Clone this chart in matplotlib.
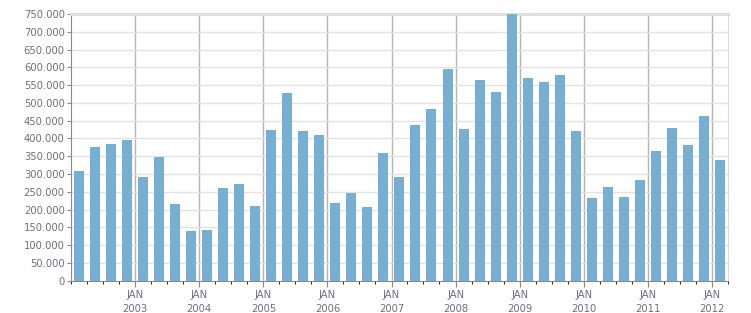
import matplotlib
matplotlib.use("Agg")
import matplotlib.pyplot as plt
import matplotlib.dates as mdates
from matplotlib.ticker import FuncFormatter, MultipleLocator
import pandas as pd
from datetime import datetime

# ---------------------------------------------------------------------------
# Data: one bar per quarter, 2002 Q1 .. 2012 Q1
# ---------------------------------------------------------------------------
FIRST_QUARTER = "2002Q1"
LAST_QUARTER = "2012Q1"
VALUES = [
    308000, 377000, 385000, 396000,   # 2002
    292000, 349000, 216000, 141000,   # 2003
    142000, 262000, 273000, 210000,   # 2004
    424000, 528000, 421000, 410000,   # 2005
    218000, 247000, 207000, 359000,   # 2006
    292000, 438000, 483000, 595000,   # 2007
    426000, 565000, 531000, 752000,   # 2008
    570000, 559000, 578000, 421000,   # 2009
    233000, 263000, 235000, 283000,   # 2010
    365000, 429000, 381000, 463000,   # 2011
    339000,                           # 2012
]
TICK_YEARS = list(range(2003, 2013))

BAR_COLOR = "#76afd1"
TEXT_COLOR = "#6f6f80"
AXIS_COLOR = "#8a8a8a"

periods = pd.period_range(FIRST_QUARTER, LAST_QUARTER, freq="Q")
centers = [(p.start_time + (p.end_time - p.start_time) / 2).to_pydatetime() for p in periods]

plt.rcParams["font.family"] = ["DejaVu Sans"]

fig = plt.figure(figsize=(7.51, 3.13), dpi=100)
ax = fig.add_axes([0.0945, 0.1032, 0.875, 0.852])

ax.bar(centers, VALUES, width=57, color=BAR_COLOR, zorder=3)

ax.set_xlim(datetime(2002, 1, 1), datetime(2012, 4, 1))
ax.set_ylim(0, 750000)

# y axis
ax.yaxis.set_major_locator(MultipleLocator(50000))
ax.yaxis.set_major_formatter(FuncFormatter(lambda v, _: f"{v:,.0f}".replace(",", ".")))
ax.grid(axis="y", color="#e2e2e2", lw=1, zorder=0)

# x axis: year ticks labelled JAN / yyyy, quarter minor ticks
ax.set_xticks([datetime(y, 1, 1) for y in TICK_YEARS])
ax.set_xticklabels([f"JAN\n{y}" for y in TICK_YEARS])
ax.xaxis.set_minor_locator(mdates.MonthLocator(bymonth=[1, 4, 7, 10]))
ax.grid(axis="x", which="major", color="#b4b4b4", lw=1, zorder=1)

ax.tick_params(axis="both", labelsize=7.2, labelcolor=TEXT_COLOR, color=AXIS_COLOR)
ax.tick_params(axis="y", length=3, pad=1.5)
ax.tick_params(axis="x", which="major", length=4, pad=3)
ax.tick_params(axis="x", which="minor", length=2)
for lbl in ax.get_xticklabels():
    lbl.set_linespacing(1.5)

ax.spines["left"].set_color(AXIS_COLOR)
ax.spines["bottom"].set_color(AXIS_COLOR)
ax.spines["top"].set_color("#e0e0e0")
ax.spines["top"].set_linewidth(2.2)
ax.spines["right"].set_color("#dcdcdc")

fig.savefig("out.png", dpi=100)
